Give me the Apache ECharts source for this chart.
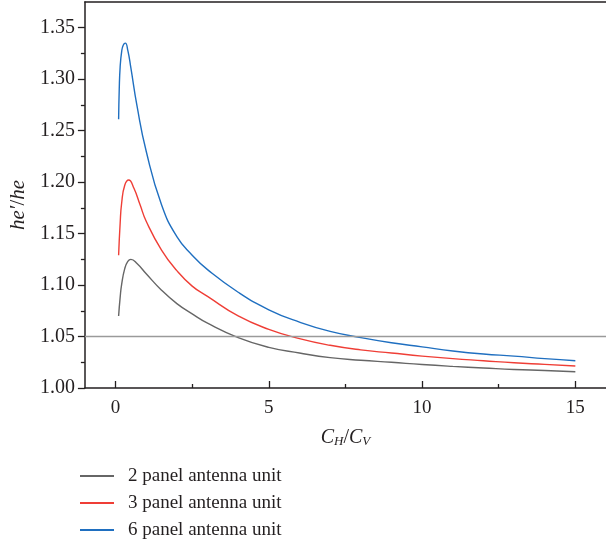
<!DOCTYPE html>
<html>
<head>
<meta charset="utf-8">
<script src="https://cdn.jsdelivr.net/npm/echarts@6/dist/echarts.min.js"></script>
<style>
  html, body { margin: 0; padding: 0; background: #fff; }
  #chart { width: 606px; height: 546px; }
</style>
</head>
<body>
<div id="chart"></div>
<script>
// ── Data ──────────────────────────────────────────────────────────────
const ratio2 = [0.1, 0.15, 0.2, 0.3, 0.4, 0.5, 0.7, 1, 1.5, 2, 2.5, 3, 4, 5, 6, 7, 8, 9, 10, 11, 12, 13, 14, 15];
const panel2 = [1.070, 1.088, 1.101, 1.116, 1.123, 1.125, 1.121, 1.111, 1.095, 1.082, 1.072, 1.063, 1.049, 1.0395, 1.034, 1.0295, 1.027, 1.025, 1.0228, 1.021, 1.0195, 1.018, 1.017, 1.0158];

const ratio3 = [0.1, 0.15, 0.2, 0.3, 0.43, 0.6, 0.8, 1, 1.5, 2, 2.5, 3, 4, 5, 6, 7, 8, 9, 10, 11, 12, 13, 14, 15];
const panel3 = [1.129, 1.160, 1.180, 1.197, 1.202, 1.194, 1.178, 1.162, 1.134, 1.114, 1.099, 1.089, 1.070, 1.057, 1.048, 1.0415, 1.037, 1.034, 1.031, 1.0285, 1.0265, 1.0245, 1.023, 1.0214];

const ratio6 = [0.1, 0.12, 0.15, 0.2, 0.25, 0.32, 0.4, 0.5, 0.7, 1, 1.5, 2, 2.5, 3, 4, 5, 6, 7, 8, 9, 10, 11, 12, 13, 14, 15];
const panel6 = [1.261, 1.290, 1.312, 1.327, 1.333, 1.335, 1.328, 1.311, 1.274, 1.230, 1.178, 1.147, 1.129, 1.115, 1.093, 1.076, 1.064, 1.055, 1.049, 1.044, 1.040, 1.036, 1.033, 1.031, 1.0285, 1.0265];

const seriesNames = ['2 panel antenna unit', '3 panel antenna unit', '6 panel antenna unit'];
const threshold = 1.05;

const xMajor = [0, 5, 10, 15];
const xMinor = [2.5, 7.5, 12.5];
const yMajor = [1.00, 1.05, 1.10, 1.15, 1.20, 1.25, 1.30, 1.35];
const yMinor = [1.025, 1.075, 1.125, 1.175, 1.225, 1.275, 1.325];

// ── Style ─────────────────────────────────────────────────────────────
const font = '"Liberation Serif", "DejaVu Serif", serif';
const ink = '#231f20';
const colors = ['#666666', '#ef3e36', '#1f6fc0'];
const xRange = [-1, 16];
const yRange = [1.0, 1.375];

const zip = (xs, ys) => xs.map((x, i) => [x, ys[i]]);

const chart = echarts.init(document.getElementById('chart'), null, { renderer: 'canvas' });

const axisLine = { show: true, onZero: false, lineStyle: { color: ink, width: 1.5 } };
const noLabel = { show: false };

chart.setOption({
  animation: false,
  backgroundColor: '#fff',
  grid: { left: 80, top: 2, width: 530, height: 386 },
  legend: {
    orient: 'vertical',
    left: 80, top: 466, padding: 0,
    icon: 'rect', itemWidth: 34, itemHeight: 2, itemGap: 7,
    textStyle: { fontFamily: font, fontSize: 19, color: ink, lineHeight: 20, padding: [0, 0, 0, 9] },
    data: seriesNames
  },
  xAxis: [
    {
      type: 'value', position: 'bottom', min: xRange[0], max: xRange[1],
      axisLine: axisLine,
      axisTick: { show: true, inside: true, length: 7, customValues: xMajor, lineStyle: { color: ink, width: 1.3 } },
      axisLabel: { customValues: xMajor, fontFamily: font, fontSize: 19, color: ink, margin: 11 },
      splitLine: { show: false },
      name: '{i|C}{s|H}{n|/}{i|C}{s|V}',
      nameLocation: 'middle', nameGap: 39,
      nameTextStyle: {
        rich: {
          i: { fontFamily: font, fontStyle: 'italic', fontSize: 20, color: ink },
          n: { fontFamily: font, fontSize: 20, color: ink },
          s: { fontFamily: font, fontStyle: 'italic', fontSize: 13, color: ink, verticalAlign: 'bottom', padding: [8, 0, 0, 0] }
        }
      }
    },
    {
      type: 'value', position: 'bottom', min: xRange[0], max: xRange[1],
      axisLine: { show: false, onZero: false },
      axisTick: { show: true, inside: true, length: 4, customValues: xMinor, lineStyle: { color: ink, width: 1.3 } },
      axisLabel: noLabel, splitLine: { show: false }
    },
    {
      type: 'value', position: 'top', min: xRange[0], max: xRange[1],
      axisLine: axisLine, axisTick: { show: false }, axisLabel: noLabel, splitLine: { show: false }
    }
  ],
  yAxis: [
    {
      type: 'value', position: 'left', min: yRange[0], max: yRange[1],
      axisLine: axisLine,
      axisTick: { show: true, length: 7, customValues: yMajor, lineStyle: { color: ink, width: 1.3 } },
      axisLabel: { customValues: yMajor, fontFamily: font, fontSize: 20, color: ink, margin: 10,
                   formatter: v => v.toFixed(2) },
      splitLine: { show: false },
      name: '{i|he′}{n|/}{i|he}',
      nameLocation: 'middle', nameGap: 44, nameRotate: 90,
      nameTextStyle: {
        padding: [0, 20, 0, 0],
        rich: {
          i: { fontFamily: font, fontStyle: 'italic', fontSize: 21, color: ink },
          n: { fontFamily: font, fontSize: 21, color: ink }
        }
      }
    },
    {
      type: 'value', position: 'left', min: yRange[0], max: yRange[1],
      axisLine: { show: false, onZero: false },
      axisTick: { show: true, length: 4, customValues: yMinor, lineStyle: { color: ink, width: 1.3 } },
      axisLabel: noLabel, splitLine: { show: false }
    }
  ],
  series: [
    {
      name: seriesNames[0], type: 'line', data: zip(ratio2, panel2),
      smooth: 0.5, symbol: 'none',
      lineStyle: { color: colors[0], width: 1.4 }, itemStyle: { color: colors[0] },
      markLine: {
        silent: true, symbol: 'none', label: { show: false },
        lineStyle: { color: '#9a9a9a', width: 1.4, type: 'solid' },
        data: [{ yAxis: threshold }]
      }
    },
    {
      name: seriesNames[1], type: 'line', data: zip(ratio3, panel3),
      smooth: 0.5, symbol: 'none',
      lineStyle: { color: colors[1], width: 1.4 }, itemStyle: { color: colors[1] }
    },
    {
      name: seriesNames[2], type: 'line', data: zip(ratio6, panel6),
      smooth: 0.5, symbol: 'none',
      lineStyle: { color: colors[2], width: 1.4 }, itemStyle: { color: colors[2] }
    }
  ]
});
</script>
</body>
</html>
